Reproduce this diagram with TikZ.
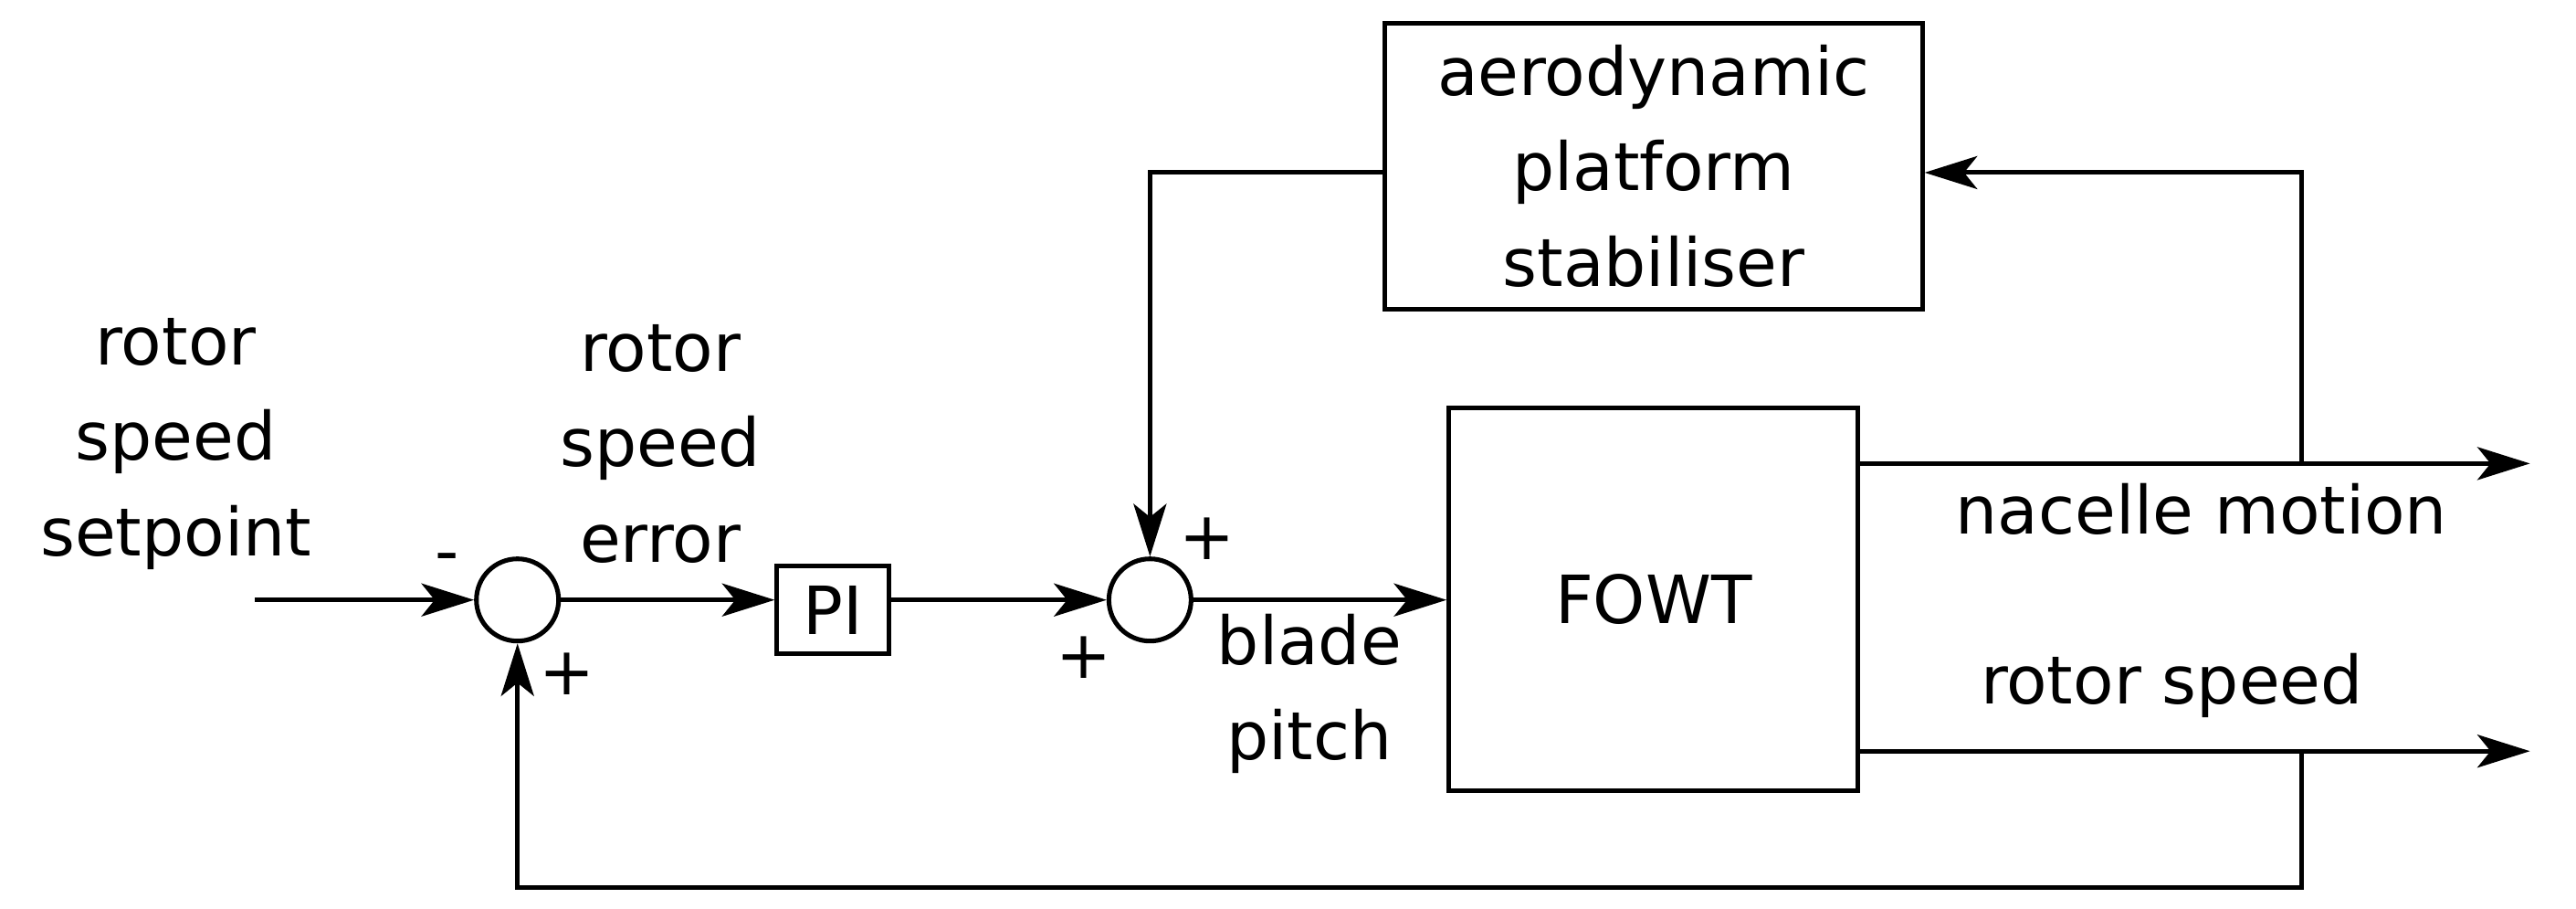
\documentclass[tikz,border=0pt]{standalone}
\usepackage{fontspec}
\setmainfont{DejaVu Sans}
\usetikzlibrary{arrows.meta}
\begin{document}
\begin{tikzpicture}[x=0.01cm,y=-0.01cm,
  every node/.style={font=\fontsize{11.5}{16.5}\selectfont},
  lbl/.style={align=center,inner sep=0pt},
  blk/.style={draw,line width=0.8pt,inner sep=0pt,align=center},
  sum/.style={draw,circle,line width=0.8pt,minimum size=0.5cm,inner sep=0pt},
  ar/.style={-{Stealth[length=0.32cm,width=0.2cm,inset=0.08cm]},line width=0.8pt},
  ln/.style={line width=0.8pt}]
\useasboundingbox (0,0) rectangle (1568,553);
\node[sum] (s1) at (315,365) {};
\node[sum] (s2) at (700,365) {};
\node[blk,minimum width=0.68cm,minimum height=0.53cm] (pi) at (507,371) {PI};
\node[blk,minimum width=2.49cm,minimum height=2.33cm] (fowt) at (1006.5,364.5) {FOWT};
\node[blk,minimum width=3.27cm,minimum height=1.74cm] (aero) at (1006.5,101) {aerodynamic\\platform\\stabiliser};
\coordinate (in) at (155,365);
\coordinate (o1) at (1540,282);
\coordinate (o2) at (1540,457);
\coordinate (b1) at (1401,282);
\coordinate (b2) at (1401,457);
\draw[ar] (in) -- (s1);
\draw[ar] (s1) -- (s1 -| pi.west);
\draw[ar] (pi.east |- s2) -- (s2);
\draw[ar] (s2) -- (s2 -| fowt.west);
\draw[ar] (fowt.east |- o1) -- (o1);
\draw[ar] (fowt.east |- o2) -- (o2);
\draw[ar] (b1) |- (aero.east |- 0,105);
\draw[ar] (aero.west |- 0,105) -| (s2.north);
\draw[ar] (b2) -- (1401,540) -| (s1.south);
\node[lbl] at (107,270) {rotor\\speed\\setpoint};
\node[lbl] at (402,270) {rotor\\speed\\error};
\node[lbl] at (797,422) {blade\\pitch};
\node[lbl] at (1340,310) {nacelle motion};
\node[lbl] at (1322,417) {rotor speed};
\node[lbl] at (272,343) {-};
\node[lbl] at (345,410) {+};
\node[lbl] at (735,328) {+};
\node[lbl] at (660,400) {+};
\end{tikzpicture}
\end{document}
